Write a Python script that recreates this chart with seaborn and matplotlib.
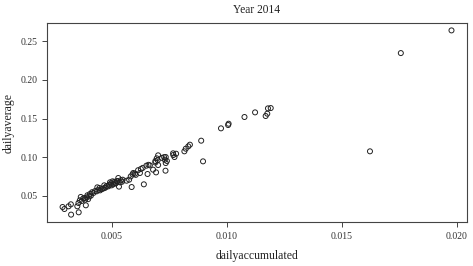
import numpy as np
import pandas as pd
import seaborn as sns
import matplotlib.pyplot as plt

# values
daily_accumulated = [
    0.01976, 0.01756, 0.01622, 0.01191, 0.01179, 0.01176, 0.01169, 0.01123,
    0.01077, 0.01008, 0.01006, 0.00975, 0.00889, 0.00897, 0.00840, 0.00833,
    0.00822, 0.00816, 0.00780, 0.00768, 0.00767, 0.00773, 0.00735, 0.00731,
    0.00735, 0.00734, 0.00702, 0.00696, 0.00702, 0.00693, 0.00680, 0.00690,
    0.00666, 0.00651, 0.00656, 0.00640, 0.00627, 0.00623, 0.00601, 0.00594,
    0.00591, 0.00587, 0.00576, 0.00565, 0.00548, 0.00536, 0.00529, 0.00532,
    0.00522, 0.00514, 0.00504, 0.00500, 0.00493, 0.00486, 0.00474, 0.00468,
    0.00457, 0.00450, 0.00438, 0.00435, 0.00421, 0.00406, 0.00403, 0.00392,
    0.00385, 0.00377, 0.00370, 0.00366, 0.00388, 0.00356, 0.00351, 0.00357,
    0.00323, 0.00313, 0.00324, 0.00295, 0.00287,
    0.00395, 0.00410, 0.00415, 0.00428, 0.00443, 0.00447, 0.00462, 0.00478,
    0.00490, 0.00497, 0.00508, 0.00512, 0.00518, 0.00526, 0.00540, 0.00470,
    0.00383, 0.00398, 0.00362, 0.00545, 0.00583, 0.00605, 0.00615, 0.00635,
    0.00660, 0.00700, 0.00718, 0.00728, 0.00690, 0.00740,
]
daily_average = [
    0.2643, 0.2349, 0.1075, 0.1636, 0.1632, 0.1563, 0.1533, 0.1580,
    0.1520, 0.1433, 0.1416, 0.1373, 0.1213, 0.0945, 0.1161, 0.1139,
    0.1109, 0.1075, 0.1044, 0.1027, 0.1049, 0.1001, 0.1001, 0.0967,
    0.0923, 0.0824, 0.1023, 0.0984, 0.0897, 0.0802, 0.0837, 0.0949,
    0.0893, 0.0889, 0.0781, 0.0647, 0.0846, 0.0794, 0.0785, 0.0794,
    0.0776, 0.0612, 0.0707, 0.0694, 0.0707, 0.0673, 0.0729, 0.0617,
    0.0686, 0.0664, 0.0686, 0.0634, 0.0673, 0.0621, 0.0608, 0.0634,
    0.0586, 0.0569, 0.0608, 0.0556, 0.0535, 0.0522, 0.0491, 0.0478,
    0.0448, 0.0465, 0.0431, 0.0483, 0.0375, 0.0405, 0.0362, 0.0284,
    0.0388, 0.0362, 0.0254, 0.0327, 0.0353,
    0.0505, 0.0500, 0.0545, 0.0560, 0.0575, 0.0600, 0.0590, 0.0625,
    0.0640, 0.0658, 0.0648, 0.0680, 0.0660, 0.0690, 0.0700, 0.0600,
    0.0470, 0.0455, 0.0440, 0.0680, 0.0750, 0.0770, 0.0830, 0.0860,
    0.0900, 0.0960, 0.0990, 0.1000, 0.0930, 0.0950,
]
x_ticks = [0.005, 0.010, 0.015, 0.020]
y_ticks = [0.05, 0.10, 0.15, 0.20, 0.25]

df = pd.DataFrame({"dailyaccumulated": daily_accumulated,
                   "dailyaverage": daily_average})

sns.set_style("ticks")
plt.rcParams['font.family'] = ['Liberation Serif', 'DejaVu Serif']

fig = plt.figure(figsize=(4.73, 2.66), dpi=100)
ax = fig.add_axes([0.0994, 0.1654, 0.888, 0.748])

sns.scatterplot(data=df, x="dailyaccumulated", y="dailyaverage", ax=ax,
                marker="o", s=13, facecolors="none", edgecolor="#222222",
                linewidth=0.7)

# R style 4% padding
xmin, xmax = min(daily_accumulated), max(daily_accumulated)
ymin, ymax = min(daily_average), max(daily_average)
ax.set_xlim(xmin - 0.04 * (xmax - xmin), xmax + 0.04 * (xmax - xmin))
ax.set_ylim(ymin - 0.04 * (ymax - ymin), ymax + 0.04 * (ymax - ymin))

ax.set_xticks(x_ticks)
ax.set_xticklabels(["%.3f" % t for t in x_ticks])
ax.set_yticks(y_ticks)
ax.set_yticklabels(["%.2f" % t for t in y_ticks])
ax.tick_params(labelsize=7, length=3.5, width=0.7, color="#444444",
               labelcolor="#333333", pad=3.5)
for sp in ax.spines.values():
    sp.set_linewidth(0.8)
    sp.set_color("#444444")

ax.set_title("Year 2014", fontsize=8.3, color="#222222", pad=7)
ax.set_xlabel("dailyaccumulated", fontsize=8.5, color="#222222", labelpad=7)
ax.set_ylabel("dailyaverage", fontsize=8.5, color="#222222", labelpad=4)

fig.savefig("out.png", dpi=100)
